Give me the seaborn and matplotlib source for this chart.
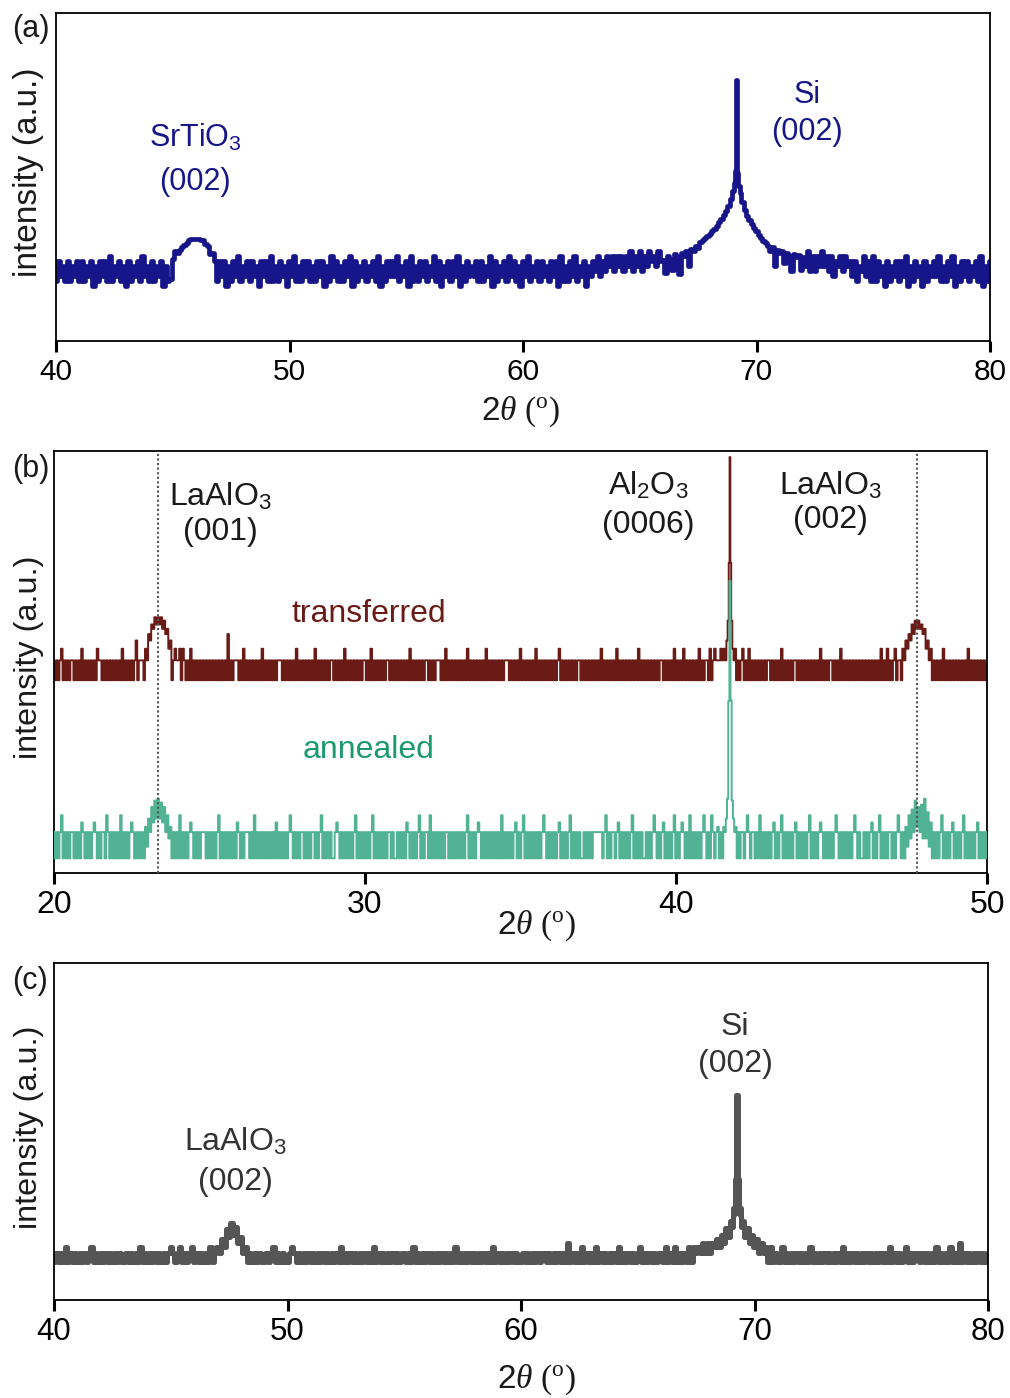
import numpy as np
import matplotlib
matplotlib.use("Agg")
import matplotlib.pyplot as plt
import matplotlib.ticker as mticker
import seaborn as sns

# ---------------------------------------------------------------- data
# Each scan is stored as a string of intensity codes on a regular 2-theta grid
# (one character per step, base-36 digits, '.' = step covered by a peak list),
# plus explicit (2theta, intensity) lists across the sharp reflections.

# (a) SrTiO3 on Si, 40-80 deg, 0.1 deg steps, linear intensity (floor + digit)
A_START, A_STEP, A_FLOOR = 40.0, 0.1, 11
A_SCAN = (
    "1524151425" "1514250415" "2516142514" "0514251624" "151425041"
    + "." * 20
    + "1525041526" "1425152405" "2516141524" "0526141525" "1415250416"
    "2514152605" "1425142516" "0415252614" "2506141525" "1426150425"
    "1526041524" "2515142605" "1425162514" "0526142515" "2415250614"
    "1526142504" "2536253646" "3646364736" "4736475647" "5"
    + "." * 61
    + "4736364746" "3625463645" "2514362516" "1524051425" "1526041524"
    "0514252614" "1526041525" "1425160415"
)
A_STO_X = [44.9, 45.0, 45.1, 45.2, 45.3, 45.4, 45.5, 45.6, 45.7, 45.8,
           45.9, 46.0, 46.1, 46.2, 46.3, 46.4, 46.5, 46.6, 46.7, 46.8]
A_STO_Y = [12.4, 16.4, 18.0, 17.6, 18.2, 18.8, 19.1, 19.6, 20.1, 20.3,
           20.5, 20.5, 20.4, 20.2, 20.1, 19.4, 19.0, 17.4, 17.6, 16.0]
A_SI_X = [66.0, 66.1, 66.2, 66.3, 66.4, 66.5, 66.6, 66.7, 66.8, 66.9,
          67.0, 67.1, 67.2, 67.3, 67.4, 67.5, 67.6, 67.7, 67.8, 67.9,
          68.0, 68.1, 68.2, 68.3, 68.4, 68.5, 68.6, 68.7, 68.8, 68.9,
          69.0, 69.05, 69.1, 69.15, 69.2, 69.25, 69.3,
          69.4, 69.5, 69.6, 69.7, 69.8, 69.9, 70.0, 70.1, 70.2, 70.3,
          70.4, 70.5, 70.6, 70.7, 70.8, 70.9, 71.0, 71.1, 71.2, 71.3,
          71.4, 71.5, 71.6, 71.7, 71.8, 71.9, 72.0]
A_SI_Y = [16.2, 13.6, 17.0, 16.4, 14.2, 17.4, 16.8, 13.4, 17.6, 17.0,
          18.0, 15.0, 18.4, 18.0, 19.0, 18.6, 19.8, 20.2, 20.6, 21.0,
          21.4, 22.0, 22.4, 23.0, 23.8, 24.4, 25.2, 26.0, 27.0, 28.4,
          30.0, 31.5, 34.0, 52.2, 33.5, 31.0, 29.6,
          27.8, 26.2, 25.0, 24.2, 23.4, 22.6, 22.0, 21.2, 20.6, 20.0,
          19.6, 19.0, 18.0, 18.8, 15.0, 18.2, 17.6, 18.0, 15.6, 17.6,
          17.0, 14.0, 17.4, 16.8, 17.2, 14.2, 16.8]

# (b) LaAlO3 on Al2O3, 20-50 deg, 0.05 deg steps, counts (log scale)
B_START, B_STEP = 20.0, 0.05
B_STACK = 1000  # vertical offset factor of the transferred scan
B_TRANSFERRED = (
    "21212312121221212131" "21212121322121212121" "21213121212124122213"
    "25476979796856341232" "23132121312121212121" "21212121212151212221"
    "21312121212121312121" "21212221212121213121" "21212121312121212122"
    "12121213121212121212" "21213121212121221212" "12121212131212121212"
    "21212122212131212121" "21212131212121212131" "21212121212221212121"
    "31212121213121212121" "21212312121212121221" "21212121212131212121"
    "21312121212121213121" "21212121212212121213" "12121312121212131212"
    "21312322" + "." * 12 + "..." + "31213121212121212"
    "21212121312121212212" "12121212121213121212" "21212131212121212121"
    "21212121212131213121" "23122132435475868675" "63423121212131212121"
    "21212121312121212121" "2"
)
B_ANNEALED = (
    "52525925252552525275" "25252575252552952525" "25292525257525252526"
    "385c7f8g8e7c59462525" "29252525752525255525" "25252592525252525275"
    "25255525292525252525" "25272525252595252525" "52525255252592525252"
    "25752525252525925252" "52525925252525255252" "25252527525252592525"
    "52925252525255252525" "25252592525257525252" "52525252925252525725"
    "25925252525252595252" "52525725252592525252" "25252525555552592525"
    "52572525252592525252" "25252595252572525259" "25257525292525252595"
    "25295256" + "." * 12 + "..." + "52595255252925252"
    "52572525925252525725" "25252592525257525252" "52595252525252595252"
    "25252572525925252552" "525952526394b5f6c5d4" "g4a37252525925252572"
    "52525925252525725252" "5"
)
B_AL_T_X = [41.40, 41.45, 41.50, 41.55, 41.60, 41.64, 41.68, 41.71, 41.735,
            41.76, 41.79, 41.83, 41.87, 41.91, 41.95, 42.00, 42.05, 42.10]
B_AL_T_Y = [2, 3, 2, 3, 2, 4, 8, 60, 2400, 60, 8, 3, 2, 3, 1, 2, 1, 2]
B_AL_A_X = [41.40, 41.45, 41.50, 41.54, 41.58, 41.62, 41.66, 41.70, 41.735,
            41.77, 41.81, 41.85, 41.89, 41.93, 41.97, 42.02, 42.06, 42.10]
B_AL_A_Y = [2, 5, 2, 6, 5, 8, 16, 480, 32000, 500, 15, 8, 5, 6, 2, 5, 2, 5]
B_LAO_LINES = [23.35, 47.75]

# (c) LaAlO3 on Si, 40-80 deg, 0.1 deg steps, counts (log scale)
C_START, C_STEP = 40.0, 0.1
C_SCAN = (
    "1212131212" "1212123121" "2121212121" "1212121312" "1212121212"
    "3212312123" "1212121312" "3253a6g7c4" "6231212121" "1212312121"
    "1232121212" "1212121212" "1213121212" "1212121312" "1212121212"
    "2121312121" "2121212121" "2131212121" "2121212131" "2121212121"
    "1212121212" "2121212121" "4121213121" "2131212121" "2131212121"
    "2312121212" "2131213121"
    + "." * 41
    + "131212121" "2121312121" "2121212131" "2121212121" "2121212131"
    "2121231212" "2121212131" "2121312141" "2121212121" "2"
)
C_SI_X = [67.0, 67.1, 67.2, 67.3, 67.4, 67.5, 67.6, 67.7, 67.8, 67.9,
          68.0, 68.1, 68.2, 68.3, 68.4, 68.5, 68.6, 68.7, 68.8, 68.9,
          69.0, 69.05, 69.1, 69.15, 69.2, 69.25, 69.3, 69.35, 69.4, 69.45,
          69.5, 69.6, 69.7, 69.8, 69.9, 70.0, 70.1, 70.2, 70.3, 70.4,
          70.5, 70.6, 70.7, 70.8, 70.9, 71.0]
C_SI_Y = [2, 1, 3, 1, 3, 2, 3, 2, 4, 2,
          4, 2, 4, 3, 5, 3, 7, 4, 11, 6,
          18, 12, 45, 30, 350, 119000, 350, 30, 45, 12,
          18, 6, 11, 4, 7, 3, 5, 2, 4, 2,
          3, 1, 3, 1, 2, 1]

# ---------------------------------------------------------------- helpers
def scan(start, step, codes, *peaks, floor=0):
    xs, ys = [], []
    for i, ch in enumerate(codes):
        if ch == ".":
            continue
        xs.append(round(start + i * step, 3))
        ys.append(int(ch, 36) + floor)
    for px, py in peaks:
        xs += list(px)
        ys += list(py)
    order = np.argsort(xs, kind="stable")
    return np.asarray(xs, float)[order], np.asarray(ys, float)[order]


# ---------------------------------------------------------------- style
sns.set_theme(style="ticks")
plt.rcParams["font.family"] = ["Liberation Sans", "DejaVu Sans"]
plt.rcParams["mathtext.fontset"] = "custom"
plt.rcParams["mathtext.rm"] = "Liberation Sans"
plt.rcParams["mathtext.it"] = "Liberation Serif:italic"
plt.rcParams["mathtext.sf"] = "Liberation Serif"
plt.rcParams["mathtext.bf"] = "Liberation Sans:bold"

NAVY = "#16168a"
MAROON = "#6b1b16"
TEAL_LINE = "#52b394"
TEAL_TEXT = "#1d9a6c"
GRAY_LINE = "#555555"
GRAY_TEXT = "#333333"
INK = "#1a1a1a"

W, H = 1010, 1398
fig = plt.figure(figsize=(W / 100, H / 100), dpi=100)


def box(left, top, right, bottom):
    return [left / W, 1 - bottom / H, (right - left) / W, (bottom - top) / H]


ax_a = fig.add_axes(box(56, 13, 990, 341))
ax_b = fig.add_axes(box(54, 451, 987, 873))
ax_c = fig.add_axes(box(54, 963, 988, 1300))

XLABEL = r"$\mathit{2}\theta$ ($^{\mathsf{o}}$)"


def finish(ax, xlim, ticks, tick_size, ylabel_size, ycoord_x, ylab_y, xlab_xy):
    ax.set_xlim(*xlim)
    ax.set_xticks(ticks)
    ax.yaxis.set_major_locator(mticker.NullLocator())
    ax.yaxis.set_minor_locator(mticker.NullLocator())
    ax.xaxis.set_minor_locator(mticker.NullLocator())
    ax.tick_params(axis="x", which="major", direction="out", length=8,
                   width=2.2, pad=4, labelsize=tick_size, colors="black",
                   bottom=True, top=False)
    ax.tick_params(axis="y", which="both", left=False, right=False)
    for s in ax.spines.values():
        s.set_visible(True)
        s.set_color("black")
        s.set_linewidth(1.3)
    ax.set_facecolor("white")
    ax.set_ylabel("intensity (a.u.)", fontsize=ylabel_size, color=INK,
                  va="center")
    ax.yaxis.set_label_coords(ycoord_x, ylab_y)
    ax.set_xlabel(XLABEL, fontsize=24, fontfamily="Liberation Serif",
                  color=INK, va="center")
    ax.xaxis.set_label_coords(*xlab_xy)


def note(ax, x, yfrac, s, color, size):
    ax.text(x, yfrac, s, transform=ax.get_xaxis_transform(), ha="center",
            va="baseline", fontsize=size, color=color)


def draw(ax, x, y, color, lw, z=2):
    sns.lineplot(x=x, y=y, ax=ax, color=color, linewidth=lw,
                 estimator=None, sort=False, drawstyle="steps-mid", zorder=z)


# ---------------------------------------------------------------- (a)
xa, ya = scan(A_START, A_STEP, A_SCAN, (A_STO_X, A_STO_Y), (A_SI_X, A_SI_Y),
              floor=A_FLOOR)
draw(ax_a, xa, ya, NAVY, 3.4)
ax_a.set_ylim(0, 65.6)
finish(ax_a, (40, 80), [40, 50, 60, 70, 80], 21.5, 24,
       (29 - 56) / 934, 0.514, (0.4968, -(412 - 341) / 328))
note(ax_a, 45.95, 0.5915, r"SrTiO$_3$", NAVY, 22)
note(ax_a, 45.95, 0.4604, "(002)", NAVY, 22)
note(ax_a, 72.15, 0.7256, "Si", NAVY, 22)
note(ax_a, 72.15, 0.6128, "(002)", NAVY, 22)

# ---------------------------------------------------------------- (b)
xt, yt = scan(B_START, B_STEP, B_TRANSFERRED, (B_AL_T_X, B_AL_T_Y))
xn, yn = scan(B_START, B_STEP, B_ANNEALED, (B_AL_A_X, B_AL_A_Y))
draw(ax_b, xt, yt * B_STACK, MAROON, 1.4, z=2)
draw(ax_b, xn, yn, TEAL_LINE, 1.4, z=3)
for xv in B_LAO_LINES:
    ax_b.axvline(xv, color="#555555", linewidth=1.5, linestyle=(0, (1, 1.2)),
                 zorder=4)
ax_b.set_yscale("log")
ax_b.set_ylim(1.2, 2.97e6)
finish(ax_b, (20, 50), [20, 30, 40, 50], 23, 23.3,
       (29 - 54) / 933, 0.511, ((536 - 54) / 933, -(926 - 873) / 422))
note(ax_b, 25.34, 0.872, r"LaAlO$_3$", INK, 23)
note(ax_b, 25.34, 0.789, "(001)", INK, 23)
note(ax_b, 39.10, 0.896, r"Al$_2$O$_3$", INK, 23)
note(ax_b, 39.10, 0.806, "(0006)", INK, 23)
note(ax_b, 44.95, 0.896, r"LaAlO$_3$", INK, 23)
note(ax_b, 44.95, 0.8175, "(002)", INK, 23)
note(ax_b, 30.13, 0.595, "transferred", MAROON, 23)
note(ax_b, 30.13, 0.2725, "annealed", TEAL_TEXT, 23)

# ---------------------------------------------------------------- (c)
xc, yc = scan(C_START, C_STEP, C_SCAN, (C_SI_X, C_SI_Y))
draw(ax_c, xc, yc, GRAY_LINE, 3.6)
ax_c.set_yscale("log")
ax_c.set_ylim(0.073, 1.19e9)
finish(ax_c, (40, 80), [40, 50, 60, 70, 80], 22.5, 23.3,
       (29 - 54) / 934, 0.512, ((536 - 54) / 934, -(1380 - 1300) / 337))
note(ax_c, 47.75, 0.445, r"LaAlO$_3$", GRAY_TEXT, 23)
note(ax_c, 47.75, 0.326, "(002)", GRAY_TEXT, 23)
note(ax_c, 69.17, 0.786, "Si", GRAY_TEXT, 23)
note(ax_c, 69.17, 0.677, "(002)", GRAY_TEXT, 23)

# ---------------------------------------------------------------- panel tags
for tag, base in (("(a)", 37), ("(b)", 477), ("(c)", 989)):
    fig.text(12 / W, 1 - base / H, tag, ha="left", va="baseline",
             fontsize=22, color=INK)

fig.savefig("out.png", dpi=100)
